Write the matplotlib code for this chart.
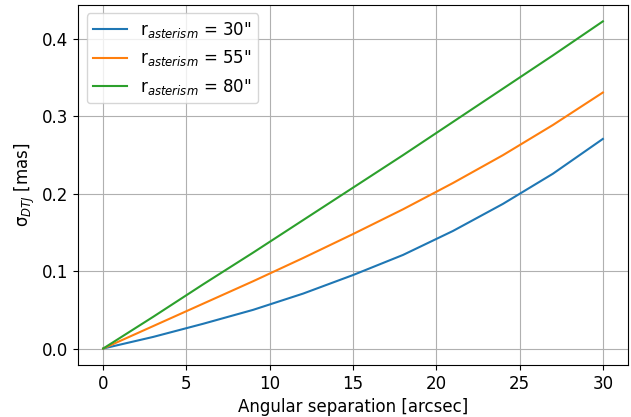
import numpy as np
import matplotlib.pyplot as plt

plt.rcParams['font.size'] = 12

# angular separation [arcsec]
sep = [0, 3, 6, 9, 12, 15, 18, 21, 24, 27, 30]
# sigma_DTJ [mas] for each asterism radius
sig_30 = [0, 0.015, 0.032, 0.050, 0.071, 0.095, 0.121, 0.152, 0.187, 0.226, 0.271]
sig_55 = [0, 0.029, 0.058, 0.087, 0.117, 0.148, 0.180, 0.214, 0.250, 0.289, 0.331]
sig_80 = [0, 0.041, 0.083, 0.124, 0.166, 0.208, 0.250, 0.293, 0.336, 0.379, 0.423]
radii = [30, 55, 80]

fig = plt.figure(figsize=(6.31, 4.17), dpi=100)
for r, s in zip(radii, [sig_30, sig_55, sig_80]):
    plt.plot(sep, s, label=r'r$_{asterism}$ = %d"' % r)
plt.xlabel('Angular separation [arcsec]')
plt.ylabel(r'σ$_{DTJ}$ [mas]')
plt.grid()
plt.legend(loc='upper left')
plt.subplots_adjust(left=0.124, right=0.995, top=0.988, bottom=0.125)
plt.savefig('out.png')
